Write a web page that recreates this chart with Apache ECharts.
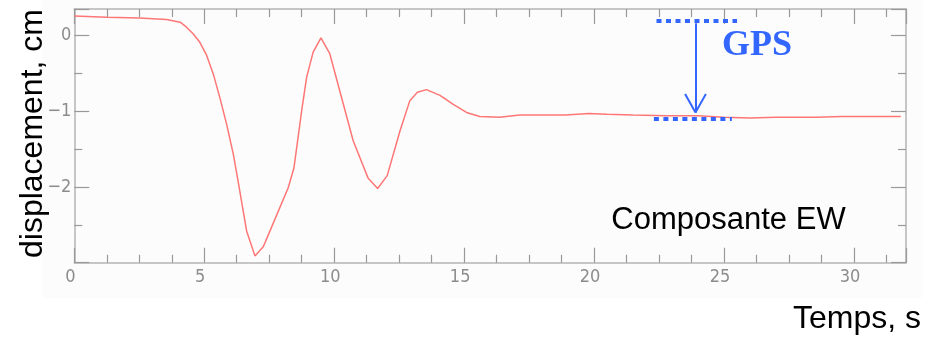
<!DOCTYPE html>
<html><head><meta charset="utf-8">
<script src="https://cdn.jsdelivr.net/npm/echarts@6/dist/echarts.min.js"></script>
<style>html,body{margin:0;padding:0;background:#fff}#c{width:944px;height:344px}</style>
</head><body><div id="c"></div>
<script>
const times = [0, 1.25, 2.5, 3.55, 4.07, 4.32, 4.58, 4.83, 5.09, 5.35, 5.6, 5.86, 6.12, 6.3, 6.63, 6.95, 7.27, 7.53, 8.23, 8.45, 8.75, 8.94, 9.19, 9.49, 9.83, 10.73, 11.3, 11.67, 12.04, 12.53, 12.91, 13.2, 13.55, 14.07, 14.58, 15.09, 15.6, 16.37, 17.14, 18.9, 19.8, 20.5, 21.5, 22.8, 24, 25, 26, 27, 28.55, 29.5, 31.8];
const disp  = [0.256, 0.24, 0.23, 0.21, 0.176, 0.11, 0.02, -0.09, -0.26, -0.51, -0.82, -1.17, -1.57, -1.92, -2.58, -2.91, -2.79, -2.58, -2.01, -1.75, -0.99, -0.55, -0.22, -0.03, -0.24, -1.39, -1.88, -2.02, -1.85, -1.26, -0.86, -0.75, -0.715, -0.79, -0.91, -1.016, -1.07, -1.08, -1.05, -1.05, -1.03, -1.04, -1.05, -1.06, -1.06, -1.08, -1.09, -1.08, -1.08, -1.07, -1.07];
const xTicks = {min: 0, max: 32, interval: 5};
const yTicks = {min: -3, max: 0.35, interval: 1};
// GPS annotation (data coords)
const gpsTop = {t0: 22.4, t1: 25.5, v: 0.2};
const gpsBot = {t0: 22.3, t1: 25.3, v: -1.1};
const gpsArrow = {t: 23.9, vTop: 0.163, vTip: -1.016, headDt: 0.4, headV: -0.772};
const labels = {y: 'displacement, cm', x: 'Temps, s', comp: 'Composante EW', gps: 'GPS'};

const chart = echarts.init(document.getElementById('c'), null, {renderer: 'canvas'});
const axisGray = '#b4b4b4';
const labelFont = {color: '#8c8c8c', fontSize: 18, fontFamily: '"Liberation Sans Narrow","DejaVu Sans Condensed",sans-serif'};
const blue = '#3366ff';
function xAx(pos, show) {
  return {type: 'value', position: pos, min: xTicks.min, max: xTicks.max, interval: xTicks.interval,
    axisLine: {show: true, onZero: false, lineStyle: {color: axisGray, width: 1.5}},
    axisTick: {show: true, inside: true, length: 15, lineStyle: {color: '#999', width: 1.2}},
    minorTick: {show: true, splitNumber: 4, length: 8, lineStyle: {color: '#999', width: 1.2}},
    splitLine: {show: false},
    axisLabel: Object.assign({show: show, margin: 6, showMaxLabel: false, padding: [0, 8, 0, 0]}, labelFont)};
}
function yAx(pos, show) {
  return {type: 'value', position: pos, min: yTicks.min, max: yTicks.max, interval: yTicks.interval,
    axisLine: {show: true, onZero: false, lineStyle: {color: axisGray, width: 1.5}},
    axisTick: {show: true, inside: true, length: 15, lineStyle: {color: '#999', width: 1.2}},
    minorTick: {show: true, splitNumber: 2, length: 8, lineStyle: {color: '#999', width: 1.2}},
    splitLine: {show: false},
    axisLabel: Object.assign({show: show, margin: 3, showMaxLabel: false, showMinLabel: false,
      formatter: v => (v === yTicks.min ? '' : String(v).replace('-', '\u2212'))}, labelFont)};
}
const dotted = {color: blue, width: 4, type: [5, 4.5]};
chart.setOption({
  animation: false,
  backgroundColor: '#fff',
  grid: {left: 74.3, right: 38, top: 9, bottom: 81.3},
  xAxis: [xAx('bottom', true), xAx('top', false)],
  yAxis: [yAx('left', true), yAx('right', false)],
  graphic: [
    {type: 'rect', z: -10, shape: {x: 42, y: 0, width: 880, height: 298}, style: {fill: '#fcfcfc'}},
    {type: 'text', x: 33, y: 133.5, rotation: Math.PI / 2,
      style: {text: labels.y, fontSize: 32, fontFamily: 'Liberation Sans, Arial, sans-serif', fill: '#000', textAlign: 'center', textVerticalAlign: 'middle'}},
    {type: 'text', x: 857, y: 335,
      style: {text: labels.x, fontSize: 32, fontFamily: 'Liberation Sans, Arial, sans-serif', fill: '#000', textAlign: 'center', textVerticalAlign: 'bottom'}},
    {type: 'text', x: 728.5, y: 236,
      style: {text: labels.comp, fontSize: 31, fontFamily: 'Liberation Sans, Arial, sans-serif', fill: '#000', textAlign: 'center', textVerticalAlign: 'bottom'}},
    {type: 'text', x: 757, y: 64,
      style: {text: labels.gps, fontSize: 36, fontWeight: 'bold', fontFamily: 'Liberation Serif, Times New Roman, serif', fill: blue, textAlign: 'center', textVerticalAlign: 'bottom'}}
  ],
  series: [
    {type: 'line', data: times.map((t, i) => [t, disp[i]]), showSymbol: false, smooth: false,
      lineStyle: {color: '#ff7676', width: 1.5}, z: 3},
    {type: 'line', data: [], z: 4,
      markLine: {silent: true, symbol: ['none', 'none'], label: {show: false}, animation: false,
        data: [
          [{coord: [gpsTop.t0, gpsTop.v], lineStyle: dotted}, {coord: [gpsTop.t1, gpsTop.v]}],
          [{coord: [gpsBot.t0, gpsBot.v], lineStyle: dotted}, {coord: [gpsBot.t1, gpsBot.v]}],
          [{coord: [gpsArrow.t, gpsArrow.vTop], lineStyle: {color: blue, width: 2, type: 'solid'}}, {coord: [gpsArrow.t, gpsArrow.vTip]}],
          [{coord: [gpsArrow.t - gpsArrow.headDt, gpsArrow.headV], lineStyle: {color: blue, width: 2, type: 'solid'}}, {coord: [gpsArrow.t, gpsArrow.vTip]}],
          [{coord: [gpsArrow.t + gpsArrow.headDt, gpsArrow.headV], lineStyle: {color: blue, width: 2, type: 'solid'}}, {coord: [gpsArrow.t, gpsArrow.vTip]}]
        ]}}
  ]
});
</script></body></html>
